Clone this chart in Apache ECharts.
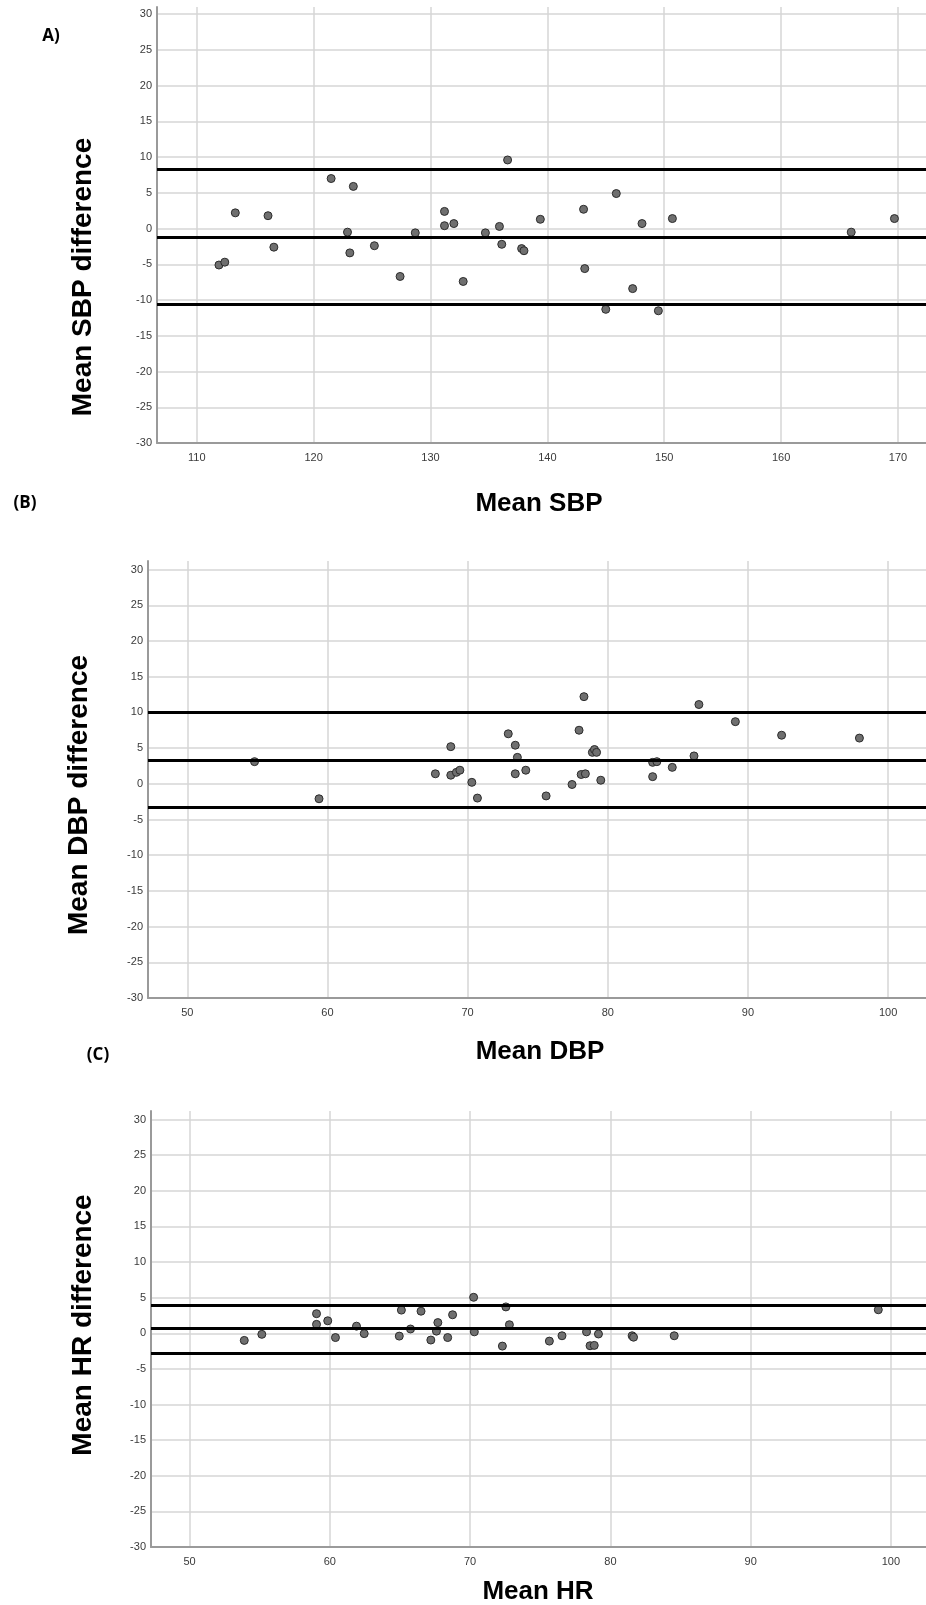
<!DOCTYPE html>
<html>
	<head>
		<meta charset="UTF-8">
		<title>Bland-Altman</title>
		<style>
			html, body { margin: 0; padding: 0; background: #fff; }
			#main { width: 926px; height: 1605px; }
		</style>
	</head>
	<body>
		<div id="main"></div>

		<script type="text/javascript" src="https://cdn.jsdelivr.net/npm/echarts@6/dist/echarts.min.js"></script>
		<script>
			/************* data *****************/
			// (A) systolic
			var sbpMean = [111.9, 112.4, 113.3, 116.1, 116.6, 121.5, 123.4, 122.9, 123.1, 125.2, 127.4, 128.7, 131.2, 131.2, 132.0, 132.8, 134.7,
				135.9, 136.1, 136.6, 137.8, 138.0, 139.4, 143.1, 143.2, 145.0, 145.9, 147.3, 148.1, 149.5, 150.7, 166.0, 169.7];
			var sbpDiff = [-5.1, -4.7, 2.2, 1.8, -2.6, 7.0, 5.9, -0.5, -3.4, -2.4, -6.7, -0.6, 2.4, 0.4, 0.7, -7.4, -0.6,
				0.3, -2.2, 9.6, -2.8, -3.1, 1.3, 2.7, -5.6, -11.3, 4.9, -8.4, 0.7, -11.5, 1.4, -0.5, 1.4];
			var sbpLimits = [8.3, -1.2, -10.6];
			var sbpTicks = [110, 120, 130, 140, 150, 160, 170];

			// (B) diastolic
			var dbpMean = [54.8, 59.4, 67.7, 68.8, 68.8, 69.2, 69.45, 70.3, 70.7, 72.9, 73.4, 73.55, 73.4, 74.15, 75.6, 77.45, 77.95,
				78.3, 78.1, 78.4, 78.9, 79.05, 79.2, 79.5, 83.2, 83.5, 83.2, 84.6, 86.15, 86.5, 89.1, 92.4, 97.95];
			var dbpDiff = [3.1, -2.1, 1.4, 5.2, 1.2, 1.6, 1.9, 0.2, -2.0, 7.0, 5.4, 3.7, 1.4, 1.9, -1.7, -0.1, 7.5,
				12.2, 1.3, 1.4, 4.4, 4.8, 4.4, 0.5, 3.0, 3.1, 1.0, 2.3, 3.9, 11.1, 8.7, 6.8, 6.4];
			var dbpLimits = [10.0, 3.35, -3.35];
			var dbpTicks = [50, 60, 70, 80, 90, 100];

			// (C) heart rate
			var hrMean = [53.9, 55.15, 59.05, 59.05, 59.85, 60.4, 61.9, 62.45, 64.95, 65.1, 65.75, 66.5, 67.2, 67.6, 67.7, 68.4,
				68.75, 70.25, 70.3, 72.3, 72.55, 72.8, 75.65, 76.55, 78.3, 78.55, 78.85, 79.15, 81.55, 81.65, 84.55, 99.1];
			var hrDiff = [-1.0, -0.15, 2.75, 1.25, 1.75, -0.6, 1.0, -0.05, -0.4, 3.25, 0.6, 3.1, -0.95, 0.3, 1.5, -0.6,
				2.6, 5.05, 0.2, -1.8, 3.7, 1.2, -1.1, -0.35, 0.2, -1.75, -1.7, -0.1, -0.35, -0.55, -0.35, 3.3];
			var hrLimits = [3.95, 0.65, -2.75];
			var hrTicks = [50, 60, 70, 80, 90, 100];

			var diffTicks = [-30, -25, -20, -15, -10, -5, 0, 5, 10, 15, 20, 25, 30];

			/************* helpers *****************/
			var xNameFont = 'bold 26px "Liberation Sans", Arial, sans-serif';
			var yNameFont = 'bold 28px "Liberation Sans", Arial, sans-serif';
			var tagFont = 'bold 17px "Open Sans", "Liberation Sans", sans-serif';

			function pairs(xs, ys) {
				var out = [];
				for (var i = 0; i < xs.length; i++) {
					out.push([xs[i], ys[i]]);
				}
				return out;
			}

			function xAxisOf(idx, min, max, ticks) {
				return {
					type: 'value', gridIndex: idx, min: min, max: max,
					axisLine: { show: true, onZero: false, lineStyle: { color: '#9a9a9a', width: 2 } },
					axisTick: { show: false, customValues: ticks },
					axisLabel: { customValues: ticks, color: '#3a3a3a', fontSize: 11, margin: 9, fontFamily: '"Liberation Sans", Arial' },
					splitLine: { show: true, lineStyle: { color: '#d6d6d6', width: 1.5 } }
				};
			}

			function yAxisOf(idx, max) {
				return {
					type: 'value', gridIndex: idx, min: -30, max: max,
					axisLine: { show: true, onZero: false, lineStyle: { color: '#9a9a9a', width: 2 } },
					axisTick: { show: false, customValues: diffTicks },
					axisLabel: { customValues: diffTicks, color: '#3a3a3a', fontSize: 11, margin: 5, fontFamily: '"Liberation Sans", Arial' },
					splitLine: { show: true, lineStyle: { color: '#d6d6d6', width: 1.5 } }
				};
			}

			function scatterOf(idx, xs, ys, limits) {
				var lines = [];
				for (var i = 0; i < limits.length; i++) {
					lines.push({ yAxis: limits[i] });
				}
				return {
					type: 'scatter', xAxisIndex: idx, yAxisIndex: idx,
					data: pairs(xs, ys),
					symbolSize: 8,
					itemStyle: { color: '#6f6f6f', borderColor: '#2b2b2b', borderWidth: 1, opacity: 1 },
					z: 3,
					markLine: {
						silent: true, symbol: 'none', animation: false,
						label: { show: false },
						lineStyle: { color: '#000', width: 3, type: 'solid' },
						data: lines
					}
				};
			}

			function textAt(x, y, text, font, rot) {
				return {
					type: 'text', x: x, y: y, rotation: rot || 0,
					style: { text: text, font: font, fill: '#000', align: 'center', verticalAlign: 'middle' }
				};
			}

			/************* chart *****************/
			var chart = echarts.init(document.getElementById('main'));

			var option = {
				animation: false,
				grid: [
					{ left: 157, top: 7, width: 769, height: 436 },
					{ left: 148, top: 561, width: 778, height: 437 },
					{ left: 151, top: 1111, width: 775, height: 436 }
				],
				xAxis: [
					xAxisOf(0, 106.6, 172.4, sbpTicks),
					xAxisOf(1, 47.2, 102.7, dbpTicks),
					xAxisOf(2, 47.25, 102.5, hrTicks)
				],
				yAxis: [
					yAxisOf(0, 31),
					yAxisOf(1, 31.2),
					yAxisOf(2, 31.2)
				],
				series: [
					scatterOf(0, sbpMean, sbpDiff, sbpLimits),
					scatterOf(1, dbpMean, dbpDiff, dbpLimits),
					scatterOf(2, hrMean, hrDiff, hrLimits)
				],
				graphic: [
					textAt(51, 36, 'A)', tagFont),
					textAt(25, 503, '(B)', tagFont),
					textAt(98, 1055, '(C)', tagFont),
					textAt(83, 277, 'Mean SBP difference', yNameFont, Math.PI / 2),
					textAt(79, 795, 'Mean DBP difference', yNameFont, Math.PI / 2),
					textAt(83, 1325, 'Mean HR difference', yNameFont, Math.PI / 2),
					textAt(539, 504, 'Mean SBP', xNameFont),
					textAt(540, 1052, 'Mean DBP', xNameFont),
					textAt(538, 1592, 'Mean HR', xNameFont)
				]
			};

			chart.setOption(option);
		</script>
	</body>
</html>
